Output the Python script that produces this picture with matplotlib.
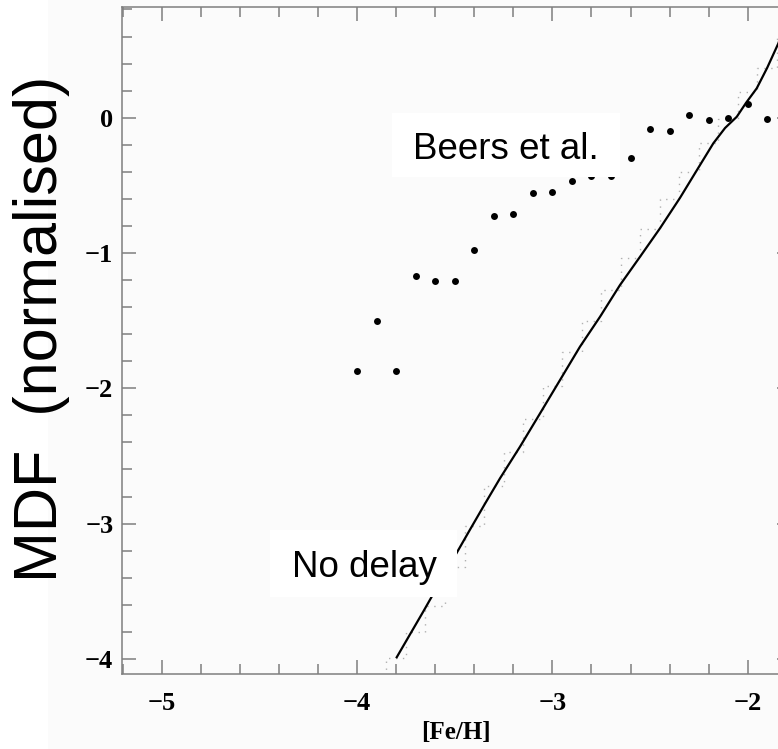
import numpy as np
import matplotlib.pyplot as plt
from matplotlib.patches import Rectangle
from matplotlib.ticker import MultipleLocator

# Beers et al. observed metallicity distribution (log, normalised)
feh_obs = [-4.0, -3.9, -3.8, -3.7, -3.6, -3.5, -3.4, -3.3, -3.2, -3.1, -3.0,
           -2.9, -2.8, -2.7, -2.6, -2.5, -2.4, -2.3, -2.2, -2.1, -2.0, -1.9]
mdf_obs = [-1.87, -1.50, -1.87, -1.17, -1.21, -1.21, -0.98, -0.73, -0.71,
           -0.56, -0.55, -0.47, -0.43, -0.43, -0.30, -0.08, -0.10, 0.02,
           -0.02, 0.00, 0.10, -0.01]

# model without delay: smooth curve
feh_model = [-3.797, -3.661, -3.539, -3.422, -3.345, -3.268, -3.166, -3.063,
             -2.961, -2.859, -2.756, -2.654, -2.551, -2.449, -2.347, -2.260,
             -2.176, -2.116, -2.056, -2.009, -1.954, -1.901, -1.843, -1.794]
mdf_model = [-3.988, -3.650, -3.340, -3.045, -2.853, -2.665, -2.432, -2.185,
             -1.939, -1.693, -1.471, -1.237, -1.027, -0.817, -0.593, -0.387,
             -0.189, -0.076, 0.007, 0.109, 0.217, 0.367, 0.550, 0.759]

# model without delay: binned histogram
bin_edges = [-3.95, -3.85, -3.75, -3.65, -3.55, -3.45, -3.35, -3.25, -3.15,
             -3.05, -2.95, -2.85, -2.75, -2.65, -2.55, -2.45, -2.35, -2.25,
             -2.15, -2.05, -1.95, -1.85, -1.75]
bin_mdf = [-4.30, -3.99, -3.80, -3.61, -3.32, -3.02, -2.72, -2.47, -2.23,
           -1.98, -1.73, -1.50, -1.27, -1.04, -0.82, -0.60, -0.40, -0.19,
           -0.01, 0.19, 0.37, 0.62]

W, H = 778, 749
fig = plt.figure(figsize=(W / 100, H / 100), dpi=100, facecolor='#fbfbfb')

def fx(px):
    return px / W

def fy(py):
    return 1 - py / H

ax = fig.add_axes([fx(121.7), fy(674.3), fx(790.7) - fx(121.7), fy(7.3) - fy(674.3)])
ax.set_facecolor('#fbfbfb')
ax.set_xlim(-5.205, -1.78)
ax.set_ylim(-4.114, 0.816)

grey = '#7f7f7f'
for s in ax.spines.values():
    s.set_color(grey)
    s.set_linewidth(1.1)
ax.xaxis.set_major_locator(MultipleLocator(1))
ax.xaxis.set_minor_locator(MultipleLocator(0.2))
ax.yaxis.set_major_locator(MultipleLocator(1))
ax.yaxis.set_minor_locator(MultipleLocator(0.2))
ax.tick_params(which='both', direction='in', top=True, right=True,
               color=grey, width=1.1)
ax.tick_params(which='major', length=10)
ax.tick_params(which='minor', length=7)
ax.tick_params(axis='x', pad=13)
ax.tick_params(axis='y', pad=6)
for lab in ax.get_xticklabels() + ax.get_yticklabels():
    lab.set_family('Liberation Serif')
    lab.set_fontweight('bold')
    lab.set_fontsize(19)

ax.step(bin_edges[:-1], bin_mdf, where='post', color='#b0b0b0', lw=1.0,
        ls=(0, (1, 4)), zorder=2)
ax.plot(feh_obs, mdf_obs, 'o', color='black', ms=5, mec='none', zorder=3)
ax.plot(feh_model, mdf_model, color='black', lw=1.6, zorder=6)

ax.set_xlabel('[Fe/H]', family='Liberation Serif', fontweight='bold',
              fontsize=18, labelpad=4)

# white boxes behind the curve labels
fig.add_artist(Rectangle((fx(391.7), fy(177.3)), fx(620) - fx(391.7),
                         fy(113.3) - fy(177.3), transform=fig.transFigure,
                         fc='white', ec='none', zorder=4))
fig.text(fx(412.7), fy(159.3), 'Beers et al.', family='Liberation Sans',
         fontsize=26.5, va='baseline', ha='left', zorder=5)
fig.add_artist(Rectangle((fx(270), fy(596.7)), fx(456.7) - fx(270),
                         fy(530) - fy(596.7), transform=fig.transFigure,
                         fc='white', ec='none', zorder=4))
fig.text(fx(291.7), fy(577.3), 'No delay', family='Liberation Sans',
         fontsize=26.5, va='baseline', ha='left', zorder=5)

fig.add_artist(Rectangle((0, 0), fx(48), 1, transform=fig.transFigure,
                         fc='white', ec='none', zorder=0))
fig.text(fx(42), fy(329), 'MDF  (normalised)', family='Liberation Sans',
         fontsize=44, rotation=90, ha='center', va='center')

fig.savefig('out.png', dpi=100, facecolor=fig.get_facecolor())
